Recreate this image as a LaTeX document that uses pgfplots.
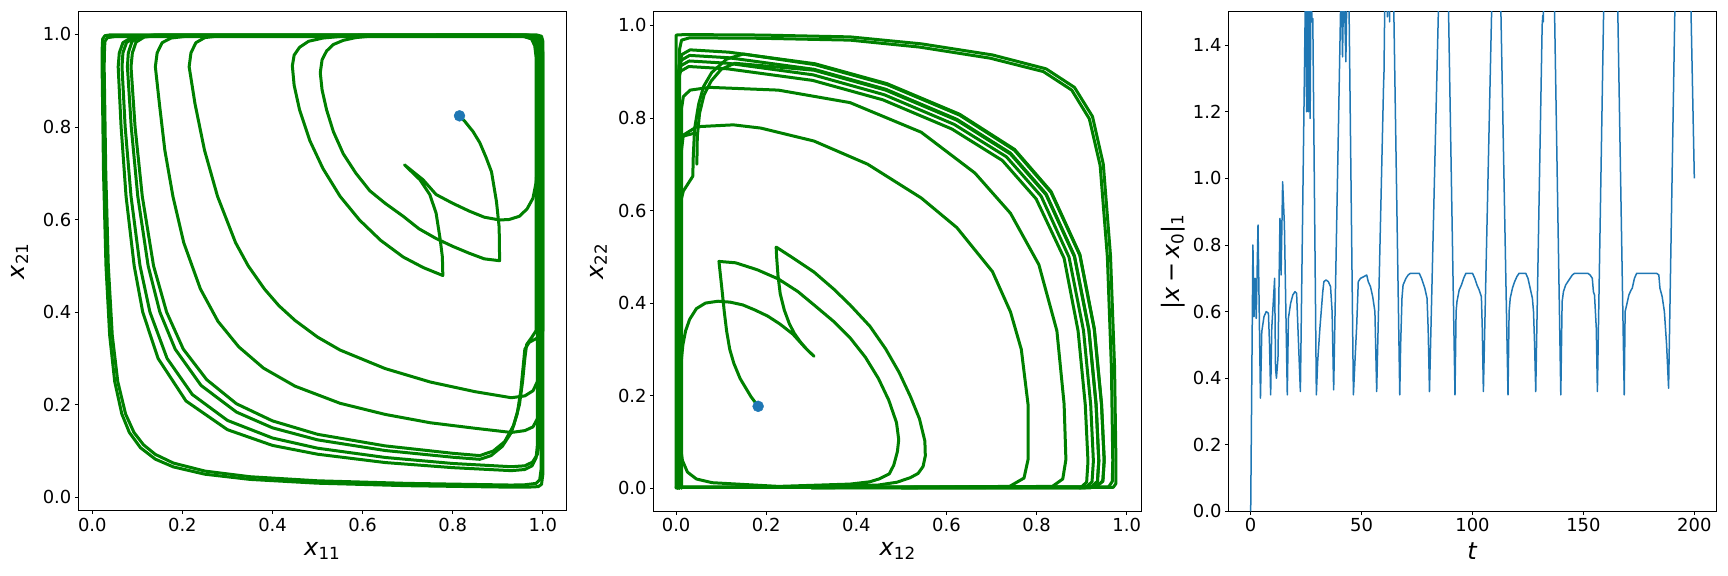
\documentclass[border=0pt]{standalone}
\usepackage{fontspec}
\setmainfont{DejaVu Sans}
\usepackage{pgfplots}
\pgfplotsset{compat=1.18}
\definecolor{mplgreen}{HTML}{008000}
\definecolor{cblue}{HTML}{1F77B4}
\pgfplotsset{
  mystyle/.style={
    scale only axis, width=488bp, height=499.5bp, anchor=south west,
    tick align=outside, tick pos=left, major tick length=3.5bp,
    tick style={black, line width=0.8bp},
    axis line style={black, line width=0.8bp},
    tick label style={font=\fontsize{18}{21}\selectfont},
    label style={font=\fontsize{24}{28}\selectfont},
    /pgf/number format/assume math mode=true,
    x label style={at={(axis description cs:0.5,-0.08)}, anchor=center},
  },
  onedec/.style={
    xticklabel style={/pgf/number format/.cd, fixed, fixed zerofill, precision=1},
    yticklabel style={/pgf/number format/.cd, fixed, fixed zerofill, precision=1},
  },
  gl/.style={mplgreen, line width=3bp, line join=round, line cap=round, mark=none},
}
\begin{document}
\begin{tikzpicture}
\path[use as bounding box] (0bp,0bp) rectangle (1728bp,576bp);

%================ LEFT PANEL ================
\begin{axis}[mystyle, onedec, at={(78.3bp,65.3bp)},
  xmin=-0.031, xmax=1.052, ymin=-0.029, ymax=1.05,
  xtick={0,0.2,0.4,0.6,0.8,1.0}, ytick={0,0.2,0.4,0.6,0.8,1.0},
  xlabel={\textit{x}\textsubscript{11}}, ylabel={\textit{x}\textsubscript{21}},
  y label style={at={(axis description cs:-0.12,0.5)}, anchor=center}]
% loop A
\addplot[gl] coordinates {(0.99,0.30) (0.99,0.95) (0.988,0.975) (0.98,0.99) (0.96,0.997) (0.285,0.997) (0.25,0.993) (0.23,0.982) (0.219,0.96) (0.215,0.93) (0.228,0.85) (0.249,0.75) (0.278,0.65) (0.318,0.55) (0.346,0.5) (0.382,0.45) (0.414,0.414) (0.45,0.382) (0.5,0.346) (0.55,0.318) (0.65,0.278) (0.75,0.249) (0.85,0.228) (0.93,0.215) (0.96,0.219) (0.978,0.23) (0.988,0.25) (0.99,0.30)};
% loop B
\addplot[gl] coordinates {(0.995,0.2) (0.995,0.95) (0.992,0.975) (0.983,0.99) (0.96,0.996) (0.21,0.996) (0.175,0.992) (0.155,0.982) (0.144,0.96) (0.14,0.93) (0.149,0.85) (0.161,0.75) (0.179,0.65) (0.203,0.55) (0.24,0.45) (0.279,0.38) (0.325,0.325) (0.38,0.279) (0.45,0.24) (0.55,0.203) (0.65,0.179) (0.75,0.161) (0.85,0.149) (0.93,0.14) (0.96,0.144) (0.978,0.152) (0.988,0.17) (0.995,0.2)};
% loop C1 with spur
\addplot[gl] coordinates {(0.985,0.36) (0.985,0.95) (0.982,0.975) (0.975,0.99) (0.955,0.998) (0.15,0.998) (0.115,0.994) (0.097,0.983) (0.089,0.96) (0.086,0.93) (0.095,0.8) (0.111,0.65) (0.136,0.5) (0.165,0.4) (0.202,0.32) (0.254,0.254) (0.32,0.202) (0.4,0.165) (0.5,0.136) (0.65,0.111) (0.8,0.095) (0.86,0.09) (0.89,0.1) (0.915,0.12) (0.935,0.155) (0.948,0.2) (0.955,0.25) (0.96,0.3) (0.964,0.33) (0.975,0.345) (0.985,0.36)};
% loop C2 with spur
\addplot[gl] coordinates {(1.0,0.40) (1.0,0.96) (0.996,0.985) (0.985,0.996) (0.96,0.999) (0.14,0.999) (0.105,0.995) (0.088,0.984) (0.08,0.96) (0.078,0.93) (0.0865,0.8) (0.101,0.65) (0.124,0.5) (0.15,0.4) (0.184,0.32) (0.2415,0.2415) (0.32,0.184) (0.4,0.15) (0.5,0.124) (0.65,0.101) (0.8,0.0865) (0.86,0.082) (0.885,0.09) (0.91,0.11) (0.93,0.14) (0.943,0.18) (0.951,0.23) (0.956,0.28) (0.96,0.32) (0.97,0.335) (0.99,0.345) (1.0,0.36) (1.0,0.40)};
% loop C3
\addplot[gl] coordinates {(0.993,0.16) (0.993,0.95) (0.99,0.975) (0.98,0.99) (0.955,0.997) (0.125,0.997) (0.093,0.993) (0.076,0.982) (0.068,0.96) (0.066,0.93) (0.073,0.8) (0.086,0.65) (0.106,0.5) (0.128,0.4) (0.166,0.3) (0.222,0.222) (0.3,0.166) (0.4,0.128) (0.5,0.106) (0.65,0.086) (0.8,0.073) (0.93,0.066) (0.96,0.068) (0.977,0.076) (0.988,0.093) (0.993,0.125) (0.993,0.16)};
% loop C4
\addplot[gl] coordinates {(0.988,0.16) (0.988,0.95) (0.985,0.975) (0.976,0.99) (0.955,0.996) (0.115,0.996) (0.085,0.992) (0.068,0.982) (0.06,0.96) (0.0575,0.93) (0.064,0.8) (0.075,0.65) (0.093,0.5) (0.112,0.4) (0.146,0.3) (0.208,0.208) (0.3,0.146) (0.4,0.112) (0.5,0.093) (0.65,0.075) (0.8,0.064) (0.93,0.0575) (0.96,0.06) (0.976,0.068) (0.985,0.085) (0.988,0.115) (0.988,0.16)};
% outer O1
\addplot[gl] coordinates {(1.0,0.05) (1.0,0.985) (0.997,0.996) (0.985,0.999) (0.04,0.999) (0.028,0.997) (0.023,0.99) (0.022,0.97) (0.0218,0.93) (0.025,0.7) (0.0304,0.5) (0.0386,0.35) (0.0498,0.25) (0.0656,0.18) (0.0823,0.14) (0.107,0.107) (0.14,0.0823) (0.18,0.0656) (0.25,0.0498) (0.35,0.0386) (0.5,0.0304) (0.7,0.025) (0.93,0.0218) (0.97,0.022) (0.99,0.023) (0.997,0.028) (1.0,0.05)};
% outer O2
\addplot[gl] coordinates {(0.996,0.06) (0.996,0.98) (0.993,0.992) (0.982,0.995) (0.05,0.995) (0.034,0.993) (0.028,0.985) (0.027,0.96) (0.0264,0.93) (0.03,0.7) (0.0356,0.5) (0.0444,0.35) (0.0566,0.25) (0.0739,0.18) (0.0926,0.14) (0.1135,0.1135) (0.14,0.0926) (0.18,0.0739) (0.25,0.0566) (0.35,0.0444) (0.5,0.0356) (0.7,0.03) (0.93,0.0264) (0.96,0.027) (0.985,0.03) (0.993,0.038) (0.996,0.06)};
% transient
\addplot[gl] coordinates {(0.815,0.824) (0.826,0.813) (0.845,0.79) (0.86,0.766) (0.874,0.734) (0.886,0.703) (0.897,0.639) (0.903,0.583) (0.904,0.511)
 (0.87,0.515) (0.837,0.527) (0.8,0.542) (0.763,0.559) (0.725,0.58) (0.69,0.607) (0.65,0.635) (0.616,0.662) (0.585,0.7) (0.557,0.742) (0.535,0.79) (0.52,0.837) (0.51,0.88) (0.506,0.917) (0.51,0.945) (0.52,0.964) (0.535,0.978) (0.557,0.987) (0.585,0.993) (0.616,0.996) (0.7,0.998) (0.96,0.998) (0.978,0.992) (0.986,0.98) (0.99,0.95) (0.99,0.8) (0.988,0.72) (0.985,0.68) (0.978,0.646) (0.965,0.623) (0.948,0.607) (0.925,0.6) (0.904,0.599) (0.87,0.605) (0.837,0.618) (0.8,0.635) (0.763,0.654) (0.734,0.686) (0.693,0.718)
 (0.727,0.686) (0.749,0.654) (0.763,0.614) (0.772,0.558) (0.777,0.519) (0.778,0.479)
 (0.735,0.496) (0.69,0.519) (0.64,0.555) (0.593,0.599) (0.55,0.65) (0.512,0.71) (0.483,0.77) (0.46,0.837) (0.448,0.89) (0.444,0.932) (0.448,0.955) (0.46,0.972) (0.48,0.985) (0.512,0.992) (0.579,0.998) (0.9,0.999) (0.97,0.998) (0.99,0.99) (0.997,0.97) (0.998,0.9) (0.998,0.4)};
\addplot[only marks, mark=*, mark size=5.5bp, cblue, mark options={draw=cblue, fill=cblue}] coordinates {(0.815,0.824)};
\end{axis}

%================ MIDDLE PANEL ================
\begin{axis}[mystyle, onedec, at={(653.6bp,64.6bp)},
  xmin=-0.05, xmax=1.033, ymin=-0.05, ymax=1.029,
  xtick={0,0.2,0.4,0.6,0.8,1.0}, ytick={0,0.2,0.4,0.6,0.8,1.0},
  xlabel={\textit{x}\textsubscript{12}}, ylabel={\textit{x}\textsubscript{22}},
  y label style={at={(axis description cs:-0.113,0.5)}, anchor=center}]
% outer R1
\addplot[gl] coordinates {(0.0,0.0) (0.0,0.979) (0.02,0.98) (0.188,0.979) (0.386,0.975) (0.544,0.96) (0.702,0.936) (0.821,0.906) (0.884,0.866) (0.924,0.803) (0.948,0.70) (0.964,0.502) (0.973,0.261) (0.976,0.06) (0.976,0.01) (0.97,0.002) (0.0,0.002)};
% outer R2
\addplot[gl] coordinates {(0.008,0.0) (0.008,0.95) (0.012,0.968) (0.03,0.973) (0.188,0.972) (0.386,0.968) (0.54,0.953) (0.697,0.929) (0.815,0.9) (0.878,0.86) (0.917,0.798) (0.941,0.697) (0.957,0.5) (0.966,0.26) (0.969,0.06) (0.968,0.015) (0.96,0.003) (0.0,0.003)};
% cluster Qa
\addplot[gl] coordinates {(0.006,0.0) (0.006,0.912) (0.013,0.937) (0.031,0.947) (0.117,0.942) (0.308,0.917) (0.468,0.874) (0.629,0.808) (0.751,0.732) (0.832,0.641) (0.896,0.505) (0.928,0.345) (0.944,0.183) (0.95,0.061) (0.947,0.016) (0.932,0.003) (0.3,0.002)};
% cluster Q
\addplot[gl] coordinates {(0.004,0.0) (0.005,0.90) (0.012,0.925) (0.03,0.935) (0.116,0.93) (0.306,0.905) (0.465,0.862) (0.623,0.797) (0.742,0.724) (0.821,0.636) (0.884,0.502) (0.916,0.343) (0.932,0.182) (0.938,0.06) (0.935,0.015) (0.92,0.002) (0.3,0.001)};
% cluster Qc
\addplot[gl] coordinates {(0.004,0.0) (0.004,0.888) (0.011,0.913) (0.029,0.923) (0.115,0.918) (0.304,0.893) (0.462,0.85) (0.617,0.786) (0.733,0.716) (0.81,0.631) (0.872,0.499) (0.904,0.341) (0.92,0.181) (0.926,0.059) (0.923,0.014) (0.908,0.001) (0.3,0.001)};
% cluster Qd
\addplot[gl] coordinates {(0.003,0.0) (0.003,0.876) (0.01,0.901) (0.028,0.911) (0.114,0.906) (0.303,0.881) (0.459,0.839) (0.612,0.776) (0.724,0.708) (0.799,0.625) (0.861,0.497) (0.892,0.34) (0.908,0.18) (0.914,0.058) (0.911,0.013) (0.896,0.0)};
% arc S (0.86)
\addplot[gl] coordinates {(0.012,0.0) (0.012,0.82) (0.016,0.846) (0.031,0.86) (0.074,0.866) (0.227,0.86) (0.386,0.833) (0.544,0.769) (0.663,0.681) (0.742,0.594) (0.805,0.483) (0.845,0.34) (0.861,0.182) (0.865,0.062) (0.858,0.02) (0.835,0.004) (0.5,0.002)};
% arc T (0.78)
\addplot[gl] coordinates {(0.008,0.0) (0.008,0.70) (0.016,0.763) (0.046,0.781) (0.127,0.785) (0.188,0.778) (0.306,0.75) (0.425,0.70) (0.544,0.627) (0.623,0.563) (0.702,0.468) (0.742,0.381) (0.766,0.3) (0.781,0.181) (0.781,0.062) (0.772,0.022) (0.74,0.004) (0.5,0.002)};
% spurs joining the cluster
\addplot[gl] coordinates {(0.005,0.6) (0.016,0.642) (0.037,0.674) (0.038,0.716) (0.041,0.777) (0.05,0.83) (0.061,0.868) (0.079,0.898) (0.112,0.927) (0.149,0.938) (0.308,0.915) (0.468,0.872) (0.629,0.806) (0.751,0.73) (0.832,0.639) (0.896,0.503) (0.928,0.343) (0.944,0.181) (0.95,0.06) (0.947,0.015) (0.93,0.002) (0.5,0.001)};
\addplot[gl] coordinates {(0.046,0.70) (0.047,0.76) (0.052,0.81) (0.062,0.85) (0.078,0.88) (0.1,0.905) (0.13,0.918) (0.306,0.903) (0.465,0.86) (0.623,0.795) (0.742,0.722) (0.821,0.634) (0.884,0.5) (0.916,0.341) (0.932,0.18) (0.938,0.058) (0.935,0.014) (0.92,0.001) (0.5,0.001)};
\addplot[gl] coordinates {(0.004,0.74) (0.013,0.76) (0.037,0.766)};
% transient
\addplot[gl] coordinates {(0.182,0.177) (0.166,0.198) (0.142,0.237) (0.128,0.27) (0.119,0.3) (0.112,0.34) (0.107,0.38) (0.101,0.436) (0.095,0.49)
 (0.132,0.487) (0.18,0.472) (0.227,0.452) (0.27,0.425) (0.306,0.396) (0.35,0.36) (0.386,0.325) (0.42,0.283) (0.449,0.237) (0.472,0.19) (0.489,0.142) (0.494,0.105) (0.491,0.079) (0.483,0.05) (0.473,0.031) (0.45,0.02) (0.43,0.014) (0.386,0.009) (0.227,0.004) (0.08,0.012) (0.045,0.02) (0.025,0.035) (0.014,0.06) (0.008,0.1) (0.006,0.182) (0.01,0.261) (0.015,0.31) (0.021,0.34) (0.03,0.365) (0.045,0.388) (0.065,0.4) (0.093,0.404) (0.12,0.402) (0.148,0.396) (0.175,0.385) (0.203,0.372) (0.23,0.355) (0.259,0.333) (0.285,0.305) (0.306,0.285)
 (0.29,0.3) (0.275,0.317) (0.262,0.335) (0.251,0.356) (0.24,0.385) (0.231,0.42) (0.226,0.46) (0.223,0.5) (0.222,0.521)
 (0.26,0.497) (0.306,0.467) (0.35,0.43) (0.386,0.396) (0.43,0.35) (0.465,0.301) (0.495,0.25) (0.52,0.198) (0.54,0.15) (0.552,0.102) (0.553,0.07) (0.548,0.047) (0.537,0.032) (0.52,0.023) (0.49,0.013) (0.449,0.007) (0.306,0.002) (0.0,0.002)};
\addplot[only marks, mark=*, mark size=5.5bp, cblue, mark options={draw=cblue, fill=cblue}] coordinates {(0.182,0.177)};
\end{axis}

%================ RIGHT PANEL ================
\begin{axis}[mystyle, at={(1228.5bp,64.6bp)},
  xmin=-10, xmax=210, ymin=0, ymax=1.5,
  xtick={0,50,100,150,200}, ytick={0,0.2,0.4,0.6,0.8,1.0,1.2,1.4},
  yticklabel style={/pgf/number format/.cd, fixed, fixed zerofill, precision=1},
  xlabel={\textit{t}}, ylabel={|\textit{x}\,−\,\textit{x}\textsubscript{0}|\textsubscript{1}},
  y label style={at={(axis description cs:-0.113,0.5)}, anchor=center}]
\addplot[cblue, line width=1.5bp, line join=round, mark=none] coordinates {
(0,0) (1,0.8) (1.5,0.585) (2,0.70) (2.5,0.58) (3.3,0.86) (4.4,0.34) (5,0.54) (6,0.585) (7,0.6) (8,0.595) (8.5,0.5) (9,0.35)
(9.5,0.55) (10.8,0.70) (11.2,0.43) (11.6,0.40) (12.3,0.46) (13.2,0.88) (13.7,0.71) (14.4,0.99) (15.2,0.86) (16.5,0.35)
(17,0.58) (18,0.625) (19,0.65) (20,0.66) (20.7,0.655) (21.3,0.55) (22.4,0.36)
(24.8,1.62) (25.2,1.2) (25.6,1.62) (26.0,1.2) (26.4,1.62) (26.8,1.18) (27.2,1.62) (27.6,1.47) (28.0,1.48) (29.6,0.35)
(30.2,0.45) (31.2,0.55) (32.5,0.66) (33,0.69) (34,0.695) (35,0.69) (36,0.675) (36.7,0.60) (37.4,0.365)
(40.8,1.61) (41.4,1.365) (42.0,1.62) (42.9,1.35) (43.5,1.62) (44.2,1.6) (46.3,0.35)
(47,0.45) (47.8,0.56) (48.5,0.69) (49.5,0.70) (51,0.705) (52.3,0.71) (53,0.69) (54,0.675) (55,0.645) (56,0.6) (56.8,0.36)
(59.9,1.28) (60.1,1.32) (60.6,1.62) (61.3,1.6) (61.6,1.485) (61.9,1.6) (62.4,1.6) (62.6,1.47) (62.8,1.6) (64.3,1.6) (67.2,0.35)
(67.6,0.5) (68.2,0.64) (68.7,0.68) (70,0.70) (71,0.71) (72,0.715) (76,0.715) (77,0.70) (77.5,0.69) (78.5,0.67) (79.5,0.64) (80,0.55) (80.6,0.36)
(85.1,1.64) (88.7,1.70) (92.1,0.35)
(92.6,0.6) (93,0.63) (94,0.665) (95,0.68) (96,0.70) (97,0.715) (100,0.715) (101,0.70) (102,0.68) (103,0.665) (104,0.645) (104.4,0.55) (104.9,0.36)
(109.1,1.65) (112.3,1.68) (116,0.35)
(116.5,0.6) (117,0.64) (118,0.67) (119,0.69) (120,0.705) (121,0.715) (124,0.715) (125,0.70) (126,0.67) (127,0.64) (127.5,0.6) (128,0.5) (128.5,0.36)
(131.4,1.46) (131.7,1.49) (131.9,1.47) (132.5,1.65) (136.5,1.7) (139.8,0.35)
(140.4,0.63) (141,0.66) (142,0.68) (143,0.69) (144,0.70) (145,0.71) (146,0.715) (152,0.715) (153,0.71) (154,0.70) (154.5,0.66) (155,0.65) (155.8,0.55) (156.3,0.36)
(159.6,1.7) (165,1.7) (168.4,0.35)
(168.8,0.6) (169.5,0.62) (170.5,0.65) (171.5,0.665) (172,0.67) (173,0.70) (174,0.715) (183,0.715) (184,0.71) (184.5,0.67) (185.5,0.645) (186.5,0.6) (187.5,0.5) (188.4,0.37)
(191.7,1.7) (198,1.67) (200,1.0)};
\end{axis}
\end{tikzpicture}
\end{document}
